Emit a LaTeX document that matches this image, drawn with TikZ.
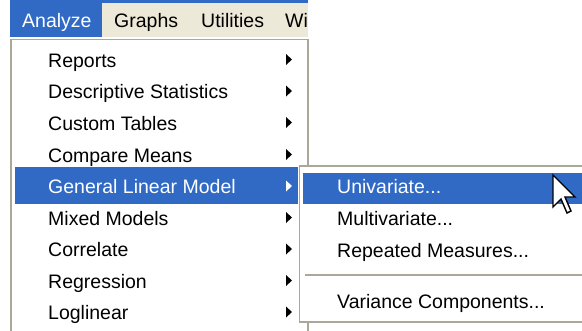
\documentclass[tikz,border=0pt]{standalone}
\usepackage{fontspec}
\setmainfont{Liberation Sans}
\usetikzlibrary{calc}

\definecolor{xpblue}{HTML}{316AC5}
\definecolor{xpbar}{HTML}{ECE9D8}
\definecolor{xpedge}{HTML}{ACA899}

\tikzset{
  item/.style={anchor=base west,inner sep=0pt,font=\fontsize{19.5}{22}\selectfont,text=black},
  hiitem/.style={item,text=white},
  menuedge/.style={draw=xpedge,line width=1.4pt,fill=white}
}

\begin{document}
\begin{tikzpicture}[x=1pt,y=-1pt]
    \useasboundingbox (0,0) rectangle (582,330);
    \clip (0,0) rectangle (582,330);
    \fill[white] (0,0) rectangle (582,330);

    % menu bar
    \fill[xpbar] (10,0) rectangle (308,37);
    \fill[xpblue] (10,0) rectangle (308,2.5);
    \fill[xpblue] (10,0) rectangle (102,37);
    \node[hiitem] (analyze) at (22,27) {Analyze};
    \node[item] (graphs) at (114,27) {Graphs};
    \node[item] (utilities) at (201,27) {Utilities};
    \begin{scope}
      \clip (10,0) rectangle (307,37);
      \node[item] (window) at (285,27) {Window};
    \end{scope}

    % analyze menu
    \draw[menuedge] (11,39.5) rectangle (308,340);
    \fill[xpblue] (15,167) rectangle (298,204);
    \node[item] (reports) at (48,67) {Reports};
    \node[item] (descr) at (48,98.5) {Descriptive Statistics};
    \node[item] (tables) at (48,130) {Custom Tables};
    \node[item] (means) at (48,162) {Compare Means};
    \node[hiitem] (glm) at (48,193.5) {General Linear Model};
    \node[item] (mixed) at (48,225) {Mixed Models};
    \node[item] (correlate) at (48,256.5) {Correlate};
    \node[item] (regression) at (48,288) {Regression};
    \node[item] (loglinear) at (48,319.5) {Loglinear};

    \fill (286,54) -- ++(6,5.5) -- ++(-6,5.5) -- cycle;
    \fill (286,85.5) -- ++(6,5.5) -- ++(-6,5.5) -- cycle;
    \fill (286,117) -- ++(6,5.5) -- ++(-6,5.5) -- cycle;
    \fill (286,149) -- ++(6,5.5) -- ++(-6,5.5) -- cycle;
    \fill[white] (286,180.5) -- ++(6,5.5) -- ++(-6,5.5) -- cycle;
    \fill (286,212) -- ++(6,5.5) -- ++(-6,5.5) -- cycle;
    \fill (286,243.5) -- ++(6,5.5) -- ++(-6,5.5) -- cycle;
    \fill (286,275) -- ++(6,5.5) -- ++(-6,5.5) -- cycle;
    \fill (286,306.5) -- ++(6,5.5) -- ++(-6,5.5) -- cycle;

    % submenu
    \draw[menuedge] (299.5,166) rectangle (600,322);
    \fill[xpblue] (303,173) rectangle (582,203.5);
    \node[hiitem] (univariate) at (337,193.5) {Univariate...};
    \node[item] (multivariate) at (337,225.5) {Multivariate...};
    \node[item] (repeated) at (337,257) {Repeated Measures...};
    \draw[xpedge,line width=1.4pt] (305,275) -- (590,275);
    \node[item] (variance) at (337,308) {Variance Components...};

    % mouse pointer
    \draw[fill=white,line width=1.4pt,line join=miter]
      (553,175) -- (553,207) -- (561,199) -- (567,213) -- (571,211)
      -- (565,197) -- (575,197) -- cycle;
\end{tikzpicture}
\end{document}
